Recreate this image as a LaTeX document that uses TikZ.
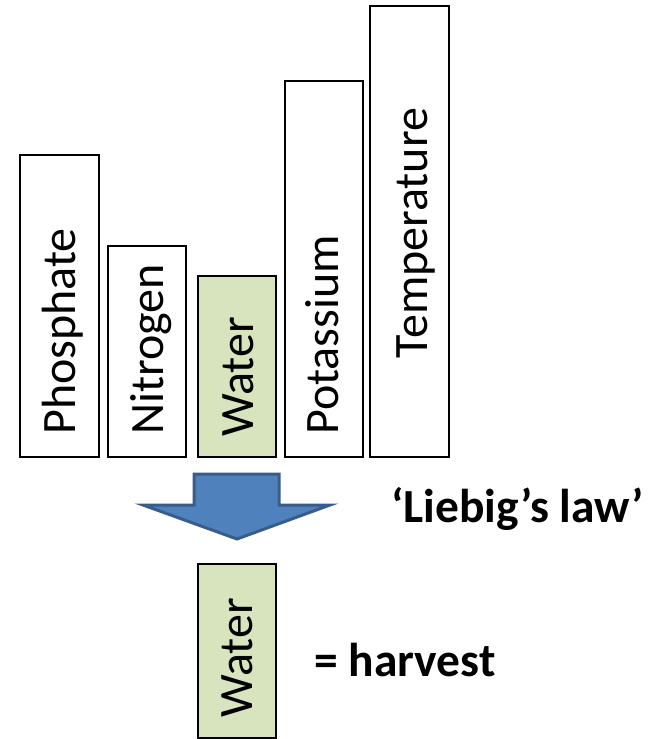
\documentclass[tikz,border=0pt]{standalone}
\usepackage{fontspec}
\setmainfont{Carlito}
\definecolor{wgreen}{HTML}{D7E4BD}
\definecolor{afill}{HTML}{4F81BD}
\definecolor{aline}{HTML}{385D8A}
\begin{document}
\begin{tikzpicture}[x=1pt,y=1pt,
  bar/.style={draw=black, line width=1.5pt, fill=white, inner sep=0pt, outer sep=0pt, anchor=north west},
  wbar/.style={bar, fill=wgreen},
  lbl/.style={rotate=90, inner sep=0pt, anchor=base west, font=\fontsize{48}{52}\selectfont},
  big/.style={inner sep=0pt, anchor=base west, font=\fontsize{47.5}{52}\selectfont\bfseries},
  bigarrow/.style={fill=afill, draw=aline, line width=3pt, line join=miter}]
\useasboundingbox (0,0) rectangle (660,-739);
% bars
\node[bar,  minimum width=79pt, minimum height=302pt] (phos)  at (20,-155) {};
\node[bar,  minimum width=78pt, minimum height=211pt] (nitro) at (108,-246) {};
\node[wbar, minimum width=78pt, minimum height=181pt] (water) at (198,-276) {};
\node[bar,  minimum width=78pt, minimum height=376pt] (potas) at (285,-81) {};
\node[bar,  minimum width=79pt, minimum height=451pt] (temp)  at (370,-6) {};
% labels
\node[lbl] (lphos)  at (75,-435) {Phosphate};
\node[lbl] (lnitro) at (163,-435) {Nitrogen};
\node[lbl] (lwater) at (253,-437) {Water};
\node[lbl] (lpotas) at (338,-435) {Potassium};
\node[lbl, anchor=base] (ltemp) at (427,-233) {Temperature};
% arrow
\draw[bigarrow] (194,-474) -- (279,-474) -- (279,-505) -- (330,-505) -- (237,-539) -- (143,-505) -- (194,-505) -- cycle;
% result
\node[wbar, minimum width=78pt, minimum height=174pt] (water2) at (198,-564) {};
\node[lbl] (lwater2) at (252,-718) {Water};
\node[big] (liebig) at (391,-522) {‘Liebig’s law’};
\node[big] (harvest) at (314,-676) {= harvest};
\end{tikzpicture}
\end{document}
